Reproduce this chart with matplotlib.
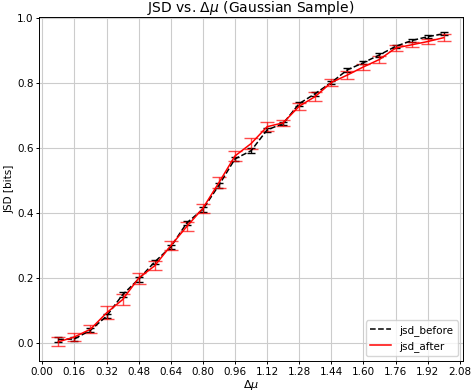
import matplotlib
matplotlib.use("Agg")
import matplotlib.pyplot as plt
from matplotlib.ticker import MultipleLocator

delta_mu = [0.08, 0.16, 0.24, 0.32, 0.40, 0.48, 0.56, 0.64, 0.72, 0.80, 0.88, 0.96,
            1.04, 1.12, 1.20, 1.28, 1.36, 1.44, 1.52, 1.60, 1.68, 1.76, 1.84, 1.92, 2.00]
jsd_before = [0.009, 0.011, 0.038, 0.081, 0.147, 0.195, 0.248, 0.294, 0.368, 0.410, 0.484, 0.565,
              0.590, 0.654, 0.674, 0.735, 0.766, 0.800, 0.839, 0.861, 0.885, 0.911, 0.929, 0.941, 0.950]
jsd_before_err = [0.008, 0.007, 0.006, 0.007, 0.008, 0.008, 0.007, 0.007, 0.007, 0.007, 0.008, 0.007,
                  0.007, 0.007, 0.006, 0.006, 0.006, 0.006, 0.006, 0.005, 0.005, 0.005, 0.004, 0.004, 0.004]
jsd_after = [0.002, 0.017, 0.041, 0.091, 0.132, 0.198, 0.236, 0.298, 0.357, 0.413, 0.492, 0.574,
             0.612, 0.664, 0.676, 0.727, 0.757, 0.800, 0.823, 0.848, 0.871, 0.906, 0.916, 0.926, 0.938]
jsd_after_err = [0.014, 0.012, 0.012, 0.020, 0.018, 0.017, 0.014, 0.014, 0.014, 0.013, 0.018, 0.016,
                 0.018, 0.014, 0.010, 0.011, 0.014, 0.010, 0.012, 0.010, 0.010, 0.010, 0.008, 0.008, 0.010]

fig = plt.figure(figsize=(4.71, 3.92), dpi=100)
ax = fig.add_axes([0.083, 0.079, 0.900, 0.878])

ax.errorbar(delta_mu, jsd_before, yerr=jsd_before_err, fmt='none', ecolor='black',
            elinewidth=1.0, capsize=3, zorder=3)
ax.plot(delta_mu, jsd_before, 'k--', lw=1.1, label='jsd_before', zorder=4)
ax.errorbar(delta_mu, jsd_after, yerr=jsd_after_err, fmt='none', ecolor='red',
            elinewidth=1.0, capsize=5, alpha=0.7, zorder=3)
ax.plot(delta_mu, jsd_after, '-', color='red', lw=1.1, label='jsd_after', zorder=5)

ax.set_xlim(-0.016, 2.096)
ax.set_ylim(-0.057, 1.002)
ax.xaxis.set_major_locator(MultipleLocator(0.16))
ax.yaxis.set_major_locator(MultipleLocator(0.2))
ax.grid(True, color='#cccccc', lw=0.8)
ax.set_axisbelow(True)
ax.tick_params(labelsize=7.5, length=2.5, pad=1.5, width=0.7)
for s in ax.spines.values():
    s.set_linewidth(0.7)
ax.set_title(r'JSD vs. $\Delta\mu$ (Gaussian Sample)', fontsize=10, pad=3)
ax.set_xlabel(r'$\Delta\mu$', fontsize=8, labelpad=1)
ax.set_ylabel('JSD [bits]', fontsize=7.5, labelpad=2)
ax.legend(loc='lower right', fontsize=7.5)

fig.savefig('out.png', dpi=100)
